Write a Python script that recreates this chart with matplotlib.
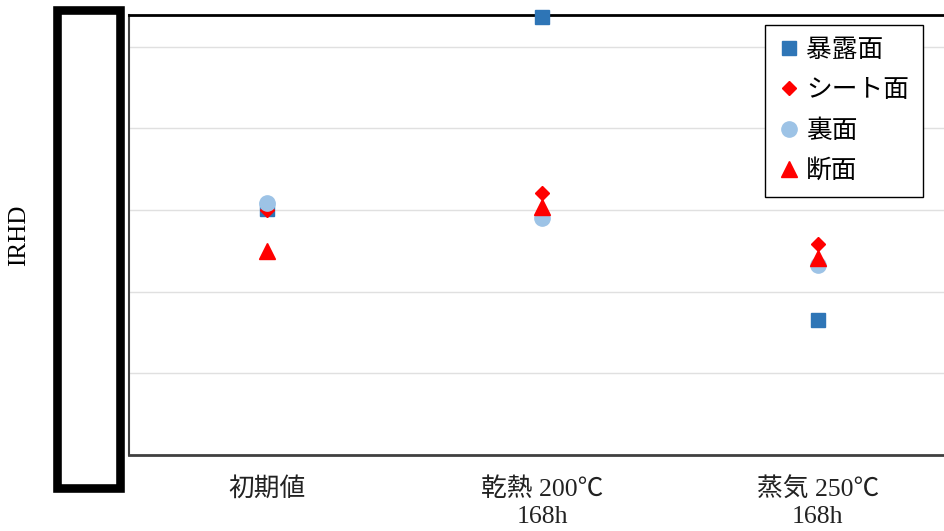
import matplotlib
matplotlib.use("Agg")
import matplotlib.pyplot as plt
from matplotlib.patches import Rectangle

plt.rcParams['font.family'] = ['Liberation Serif', 'Noto Sans CJK JP', 'DejaVu Sans']

# data (IRHD scale estimated)
categories = ['初期値', '乾熱 200℃\n168h', '蒸気 250℃\n168h']
exposed = [70.1, 93.6, 56.5]      # 暴露面
sheet = [70.0, 72.1, 65.9]        # シート面
back = [70.9, 69.0, 63.3]         # 裏面
section = [65.0, 70.4, 64.1]      # 断面
yticks = [40, 50, 60, 70, 80, 90]

W, H = 944, 531
fig = plt.figure(figsize=(W / 100, H / 100), dpi=100)
ax = fig.add_axes([129 / W, 1 - 455 / H, 826.5 / W, 440 / H])

x = range(len(categories))
ax.plot(x, exposed, 's', color='#2e75b6', markersize=10.5, label='暴露面', clip_on=False, zorder=3)
ax.plot(x, sheet, 'D', color='#ff0000', markersize=7.5, label='シート面', clip_on=False, zorder=4)
ax.plot(x, back, 'o', color='#9dc3e6', markersize=11, label='裏面', clip_on=False, zorder=5)
ax.plot(x, section, '^', color='#ff0000', markersize=11, label='断面', clip_on=False, zorder=6)

ax.set_xlim(-0.5, 2.5)
ax.set_ylim(40, 93.9)
ax.set_yticks(yticks)
ax.set_xticks(list(x))
ax.set_xticklabels(categories, fontsize=18.5, linespacing=1.3, color='#222222')
ax.tick_params(axis='x', length=0, pad=16)
ax.tick_params(axis='y', length=0, pad=12, labelsize=18)

ax.grid(True, axis='y', color='#e0e0e0', linewidth=1)
ax.set_axisbelow(True)
ax.spines['top'].set_color('black')
ax.spines['top'].set_linewidth(2)
ax.spines['left'].set_color('#404040')
ax.spines['left'].set_linewidth(1.5)
ax.spines['bottom'].set_color('#404040')
ax.spines['bottom'].set_linewidth(2)
ax.spines['right'].set_visible(False)

ax.set_ylabel('IRHD', fontsize=18)
ax.yaxis.set_label_coords(-0.12, 0.5)

leg = ax.legend(loc='upper left', bbox_to_anchor=(765 / W, 1 - 25 / H),
                bbox_transform=fig.transFigure, borderaxespad=0, fontsize=18.5,
                frameon=True, fancybox=False, framealpha=1, edgecolor='black',
                handlelength=0.8, handletextpad=0.25, labelspacing=0.66,
                borderpad=0.55)
leg.get_frame().set_linewidth(1)

# box covering the y tick labels
fig.add_artist(Rectangle((57 / W, 1 - 488 / H), 62.5 / W, 478 / H,
                         transform=fig.transFigure, facecolor='white',
                         edgecolor='black', linewidth=6.2, zorder=10))

fig.savefig('out.png', dpi=100)
